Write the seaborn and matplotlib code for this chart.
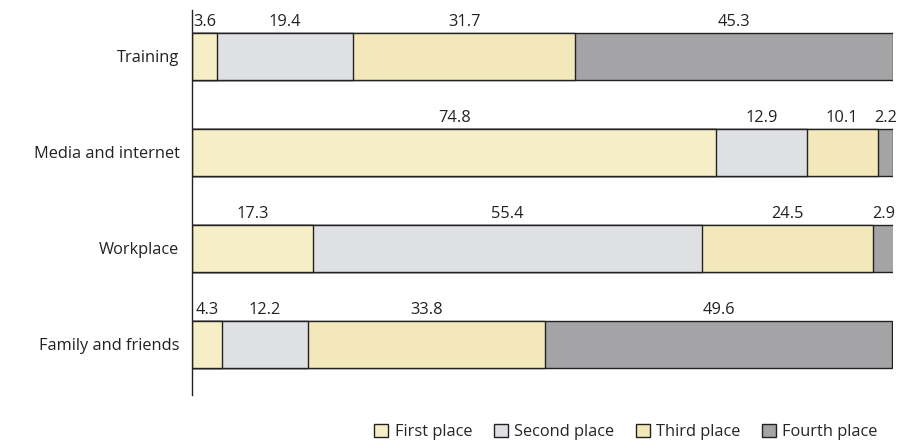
import numpy as np
import pandas as pd
import matplotlib
matplotlib.use("Agg")
import matplotlib.pyplot as plt
import seaborn as sns
from matplotlib.patches import Patch

categories = ["Training", "Media and internet", "Workplace", "Family and friends"]
places = ["First place", "Second place", "Third place", "Fourth place"]
first = [3.6, 74.8, 17.3, 4.3]
second = [19.4, 12.9, 55.4, 12.2]
third = [31.7, 10.1, 24.5, 33.8]
fourth = [45.3, 2.2, 2.9, 49.6]
colors = ["#f6eec6", "#dfe0e3", "#f3e8b9", "#a4a4a6"]

sns.set_style("white")
plt.rcParams["font.family"] = ["Open Sans", "DejaVu Sans"]

df = pd.DataFrame({"category": categories, "First place": first, "Second place": second,
                   "Third place": third, "Fourth place": fourth})
cum = df[places].cumsum(axis=1)

fig = plt.figure(figsize=(9.06, 4.47), dpi=100)
ax = fig.add_axes([192 / 906, 52 / 447, (893 - 192) / 906, 385 / 447])

# draw cumulative totals from the largest down so each segment overlaps the previous
for place, col in reversed(list(zip(places, colors))):
    sns.barplot(x=cum[place], y=df["category"], orient="h", color=col, saturation=1,
                edgecolor="#222222", linewidth=1.0, width=0.49, ax=ax)

for i in range(len(categories)):
    start = 0
    for place in places:
        v = df.loc[i, place]
        ax.text(start + v / 2, i - 0.27, f"{v:.1f}", ha="center", va="bottom",
                fontsize=11.8, color="#222222")
        start += v

ax.set_xlim(0, 100)
ax.set_ylim(3.53, -0.48)
ax.set_xlabel("")
ax.set_ylabel("")
ax.set_xticks([])
ax.tick_params(axis="y", length=0, pad=9, labelsize=11.8, labelcolor="#222222")
for s in ["top", "right", "bottom"]:
    ax.spines[s].set_visible(False)
ax.spines["left"].set_color("#222222")
ax.spines["left"].set_linewidth(1.0)

handles = [Patch(facecolor=c, edgecolor="#222222", linewidth=1.0, label=p)
           for p, c in zip(places, colors)]
fig.legend(handles=handles, loc="center", bbox_to_anchor=(626 / 906, 1 - 432 / 447),
           ncol=4, frameon=False, fontsize=11.8, handlelength=0.85, handleheight=0.85,
           handletextpad=0.4, columnspacing=1.3)

fig.savefig("out.png", dpi=100)
